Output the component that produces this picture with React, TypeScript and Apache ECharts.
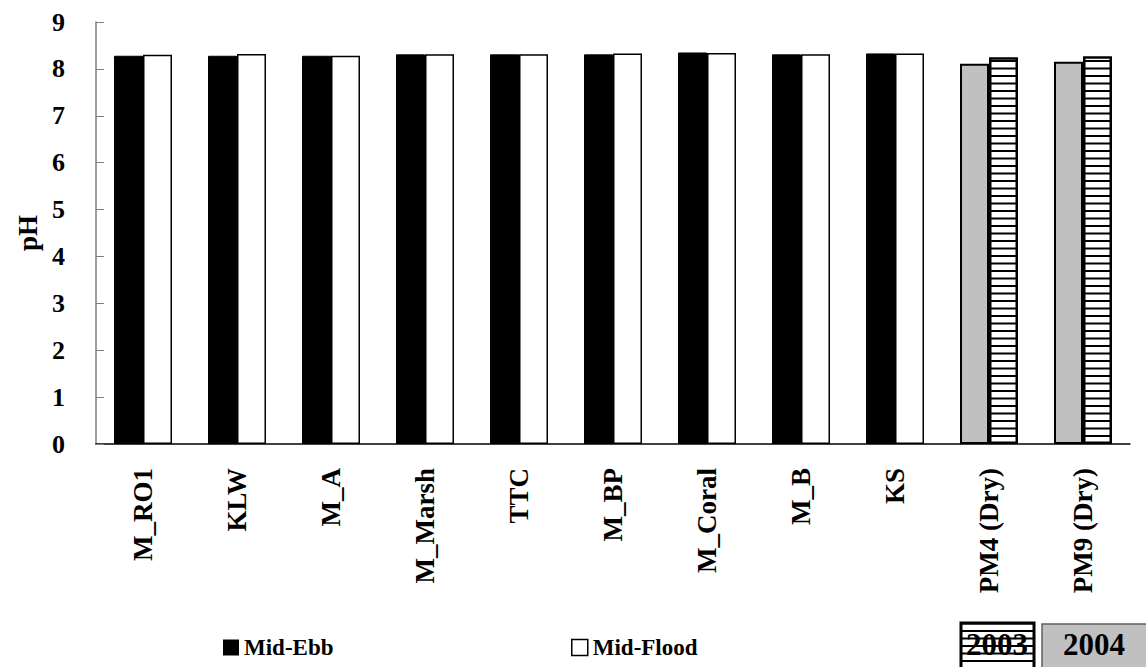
import React, { useEffect, useRef } from "react";
import * as echarts from "echarts";

const categories = ["M_RO1", "KLW", "M_A", "M_Marsh", "TTC", "M_BP", "M_Coral", "M_B", "KS", "PM4 (Dry)", "PM9 (Dry)"];
const midEbb = [8.28, 8.28, 8.28, 8.31, 8.31, 8.31, 8.35, 8.31, 8.33, 8.11, 8.15];
const midFlood = [8.30, 8.32, 8.28, 8.31, 8.31, 8.33, 8.34, 8.31, 8.33, 8.25, 8.27];
const year2004Cats = ["PM4 (Dry)", "PM9 (Dry)"];
const yTicks = { min: 0, max: 9, interval: 1 };
const yearLabels = ["2003", "2004"];

const FONT = "'Times New Roman', 'Liberation Serif', serif";

function makeStripe() {
  const c = document.createElement("canvas");
  c.width = 4;
  c.height = 15;
  const ctx = c.getContext("2d")!;
  ctx.fillStyle = "#ffffff";
  ctx.fillRect(0, 0, 4, 15);
  ctx.fillStyle = "#000000";
  ctx.fillRect(0, 0, 4, 2);
  ctx.fillRect(0, 7.5, 4, 2);
  return c;
}

export default function App() {
  const ref = useRef<HTMLDivElement>(null);
  useEffect(() => {
    if (!ref.current) return;
    const chart = echarts.init(ref.current, undefined, { renderer: "svg" });
    const stripe = { image: makeStripe(), repeat: "repeat" } as any;
    const isPM = (i: number) => year2004Cats.includes(categories[i]);
    const ebbData = midEbb.map((v, i) =>
      isPM(i)
        ? { value: v, itemStyle: { color: "#c0c0c0", borderColor: "#000", borderWidth: 2 } }
        : v
    );
    const floodData = midFlood.map((v, i) =>
      isPM(i)
        ? { value: v, itemStyle: { color: stripe, borderColor: "#000", borderWidth: 2.5 } }
        : v
    );
    const legendText = { fontFamily: FONT, fontWeight: "bold", fontSize: 23, color: "#000" };
    chart.setOption({
      animation: false,
      backgroundColor: "#ffffff",
      textStyle: { fontFamily: FONT },
      grid: { left: 96, top: 22, right: 16, bottom: 223, containLabel: false },
      legend: [
        {
          data: [{ name: "Mid-Ebb", icon: "rect", itemStyle: { color: "#000", borderColor: "#000", borderWidth: 0 } }],
          left: 218,
          top: 631,
          itemWidth: 16,
          itemHeight: 16,
          itemGap: 6,
          textStyle: legendText,
          selectedMode: false,
        },
        {
          data: [{ name: "Mid-Flood", icon: "rect", itemStyle: { color: "#fff", borderColor: "#000", borderWidth: 1.5 } }],
          left: 566,
          top: 631,
          itemWidth: 16,
          itemHeight: 16,
          textStyle: legendText,
          selectedMode: false,
        },
      ],
      xAxis: {
        type: "category",
        data: categories,
        axisLine: { lineStyle: { color: "#000", width: 1.5 } },
        axisTick: { inside: true, length: 8, lineStyle: { color: "#808080", width: 1 } },
        axisLabel: {
          rotate: 90,
          margin: 24,
          fontFamily: FONT,
          fontWeight: "bold",
          fontSize: 27,
          color: "#000",
          interval: 0,
        },
      },
      yAxis: {
        type: "value",
        min: yTicks.min,
        max: yTicks.max,
        interval: yTicks.interval,
        name: "pH",
        nameLocation: "middle",
        nameGap: 46,
        nameTextStyle: { fontFamily: FONT, fontWeight: "bold", fontSize: 27, color: "#000" },
        axisLine: { show: true, lineStyle: { color: "#808080", width: 1.5 } },
        axisTick: { show: true, inside: true, length: 8, lineStyle: { color: "#808080" } },
        axisLabel: { margin: 31, fontFamily: FONT, fontWeight: "bold", fontSize: 26, color: "#000" },
        splitLine: { show: false },
      },
      series: [
        {
          name: "Mid-Ebb",
          type: "bar",
          data: ebbData,
          barWidth: 29,
          barGap: "0%",
          itemStyle: { color: "#000", borderColor: "#000", borderWidth: 1 },
        },
        {
          name: "Mid-Flood",
          type: "bar",
          data: floodData,
          barWidth: 29,
          barGap: "0%",
          itemStyle: { color: "#fff", borderColor: "#000", borderWidth: 1.5 },
        },
      ],
      graphic: [
        {
          type: "rect",
          shape: { x: 961, y: 623, width: 73, height: 50 },
          style: { fill: stripe, stroke: "#000", lineWidth: 3 },
        },
        {
          type: "text",
          x: 997,
          y: 644,
          style: {
            text: yearLabels[0],
            font: `bold 31px ${FONT}`,
            fill: "#000",
            align: "center",
            verticalAlign: "middle",
          },
        },
        {
          type: "rect",
          shape: { x: 1042, y: 624, width: 110, height: 50 },
          style: { fill: "#c0c0c0", stroke: "#606060", lineWidth: 1.5 },
        },
        {
          type: "text",
          x: 1094,
          y: 644,
          style: {
            text: yearLabels[1],
            font: `bold 31px ${FONT}`,
            fill: "#000",
            align: "center",
            verticalAlign: "middle",
          },
        },
      ],
    });
    return () => chart.dispose();
  }, []);
  return (
    <div
      ref={ref}
      style={{ position: "fixed", left: 0, top: 0, width: 1146, height: 667, background: "#fff" }}
    />
  );
}
